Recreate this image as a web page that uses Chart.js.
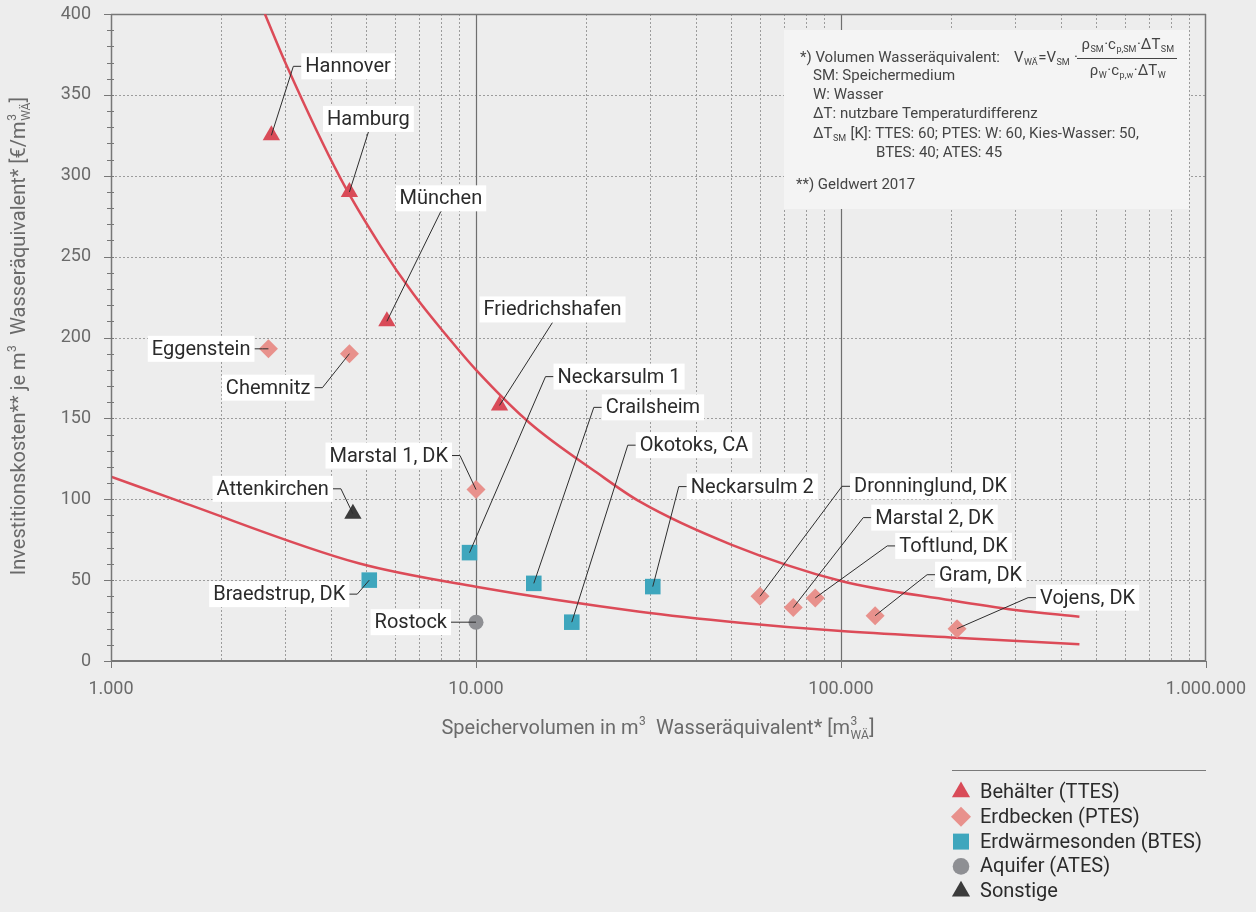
<!DOCTYPE html>
<html>
<head>
<meta charset="utf-8">
<script src="https://cdn.jsdelivr.net/npm/chart.js@4.4.1/dist/chart.umd.min.js"></script>
<style>
  html, body { margin: 0; padding: 0; background: #ededed; }
  #wrap { width: 1256px; height: 912px; position: relative; }
</style>
</head>
<body>
<div id="wrap"><canvas id="c" width="1256" height="912"></canvas></div>
<script>
// Speicherprojekte: Volumen in m³ Wasseräquivalent, Investitionskosten in €/m³
const ttesNames  = ['Hannover', 'Hamburg', 'München', 'Friedrichshafen'];
const ttesVolume = [2750, 4500, 5700, 11600];
const ttesCost   = [325, 290, 210, 158];

const ptesNames  = ['Eggenstein', 'Chemnitz', 'Marstal 1, DK', 'Dronninglund, DK', 'Marstal 2, DK', 'Toftlund, DK', 'Gram, DK', 'Vojens, DK'];
const ptesVolume = [2700, 4500, 10000, 60000, 74000, 85000, 124000, 208000];
const ptesCost   = [193, 190, 106, 40, 33, 39, 28, 20];

const btesNames  = ['Braedstrup, DK', 'Neckarsulm 1', 'Crailsheim', 'Okotoks, CA', 'Neckarsulm 2'];
const btesVolume = [5100, 9600, 14400, 18300, 30500];
const btesCost   = [50, 67, 48, 24, 46];

const atesNames  = ['Rostock'];
const atesVolume = [10000];
const atesCost   = [24];

const otherNames  = ['Attenkirchen'];
const otherVolume = [4600];
const otherCost   = [91];

// Trendlinien (obere: Behälter/Erdbecken, untere: Erdwärmesonden/Aquifer)
const upperTrendVolume = [2640, 3030, 4240, 5460, 6730, 8320, 10000, 14060, 21420, 28120, 50000, 100000, 200000, 300000, 450000];
const upperTrendCost   = [400, 368, 299, 257, 227, 201, 180, 147, 116.5, 98.5, 72, 49.5, 37.5, 31.5, 27.4];
const lowerTrendVolume = [1000, 1550, 4770, 10000, 28100, 52800, 100000, 200000, 450000];
const lowerTrendCost   = [114, 98.5, 60.4, 45.9, 30.5, 23.7, 18.5, 14.6, 10.3];

// Achsen
const xTickValues = [1000, 10000, 100000, 1000000];
const yTickValues = [0, 50, 100, 150, 200, 250, 300, 350, 400];
const legendLabels = ['Behälter (TTES)', 'Erdbecken (PTES)', 'Erdwärmesonden (BTES)', 'Aquifer (ATES)', 'Sonstige'];

const FONT = 'Roboto, "Open Sans", "DejaVu Sans", sans-serif';
const COLORS = {
  ttes: '#d94b58', ptes: '#e8918c', btes: '#3ea6bd', ates: '#8e8f93', other: '#3b3b3b',
  trend: '#dc4b58', text: '#2b2b2b', axisText: '#6a6a6a', axis: '#777777', grid: '#9c9c9c'
};

// Lage der Beschriftungen relativ zum Punkt (Knick der Hinweislinie)
const labelPlacement = {
  'Hannover':        { mode: 'right', dx: 22,  dy: -69 },
  'Hamburg':         { mode: 'above', dx: 19,  dy: -60 },
  'München':         { mode: 'above', dx: 54,  dy: -110 },
  'Friedrichshafen': { mode: 'above', dx: 53,  dy: -83 },
  'Eggenstein':      { mode: 'left',  dx: -6,  dy: 0 },
  'Chemnitz':        { mode: 'left',  dx: -27, dy: 34 },
  'Marstal 1, DK':   { mode: 'left',  dx: -16, dy: -34 },
  'Attenkirchen':    { mode: 'left',  dx: -12, dy: -25 },
  'Braedstrup, DK':  { mode: 'left',  dx: -12, dy: 14 },
  'Rostock':         { mode: 'left',  dx: -17, dy: 0 },
  'Neckarsulm 1':    { mode: 'right', dx: 76,  dy: -176 },
  'Crailsheim':      { mode: 'right', dx: 60,  dy: -176 },
  'Okotoks, CA':     { mode: 'right', dx: 56,  dy: -177 },
  'Neckarsulm 2':    { mode: 'right', dx: 26,  dy: -100 },
  'Dronninglund, DK':{ mode: 'right', dx: 82,  dy: -110 },
  'Marstal 2, DK':   { mode: 'right', dx: 70,  dy: -90 },
  'Toftlund, DK':    { mode: 'right', dx: 72,  dy: -52 },
  'Gram, DK':        { mode: 'right', dx: 52,  dy: -41 },
  'Vojens, DK':      { mode: 'right', dx: 71,  dy: -31 }
};

const toXY = (xs, ys) => xs.map((x, i) => ({ x: x, y: ys[i] }));
const fmtThousands = v => String(v).replace(/\B(?=(\d{3})+(?!\d))/g, '.');

// ---- Text mit Hoch-/Tiefstellung ----
function partWidth(ctx, p, size) {
  if (typeof p === 'string') {
    ctx.font = size + 'px ' + FONT;
    return ctx.measureText(p).width;
  }
  const s = Math.round(size * 0.62);
  ctx.font = s + 'px ' + FONT;
  const a = p.sup ? ctx.measureText(p.sup).width : 0;
  const b = p.sub ? ctx.measureText(p.sub).width : 0;
  return Math.max(a, b) + 1;
}
function richWidth(ctx, parts, size) {
  return parts.reduce((w, p) => w + partWidth(ctx, p, size), 0);
}
function drawRich(ctx, parts, x, y, size, align, color) {
  const total = richWidth(ctx, parts, size);
  let cx = align === 'center' ? x - total / 2 : (align === 'right' ? x - total : x);
  ctx.fillStyle = color;
  ctx.textAlign = 'left';
  ctx.textBaseline = 'middle';
  for (const p of parts) {
    const w = partWidth(ctx, p, size);
    if (typeof p === 'string') {
      ctx.font = size + 'px ' + FONT;
      ctx.fillText(p, cx, y);
    } else {
      ctx.font = Math.round(size * 0.62) + 'px ' + FONT;
      if (p.sup) ctx.fillText(p.sup, cx + 0.5, y - size * 0.36);
      if (p.sub) ctx.fillText(p.sub, cx + 0.5, y + size * 0.34);
    }
    cx += w;
  }
  return total;
}

// ---- Zusatzelemente: Raster, Achsen, Erläuterung, Beschriftungen, Legende ----
const decorations = {
  id: 'decorations',
  beforeDraw(chart) {
    const ctx = chart.ctx;
    ctx.save();
    ctx.fillStyle = '#ededed';
    ctx.fillRect(0, 0, chart.width, chart.height);
    ctx.restore();
  },
  beforeDatasetsDraw(chart) {
    const ctx = chart.ctx;
    const xs = chart.scales.x, ys = chart.scales.y;
    const a = chart.chartArea;
    ctx.save();
    // vertikale Hilfslinien
    ctx.lineWidth = 1;
    for (let d = 1000; d < 1000000; d *= 10) {
      for (let k = 2; k <= 9; k++) {
        const px = Math.round(xs.getPixelForValue(k * d)) + 0.5;
        ctx.strokeStyle = COLORS.grid;
        ctx.setLineDash([2, 2]);
        ctx.beginPath(); ctx.moveTo(px, a.top); ctx.lineTo(px, a.bottom); ctx.stroke();
      }
    }
    // horizontale Hilfslinien
    for (const v of yTickValues) {
      if (v === 0 || v === 400) continue;
      const py = Math.round(ys.getPixelForValue(v)) + 0.5;
      ctx.strokeStyle = COLORS.grid;
      ctx.setLineDash([2, 2]);
      ctx.beginPath(); ctx.moveTo(a.left, py); ctx.lineTo(a.right, py); ctx.stroke();
    }
    ctx.setLineDash([]);
    // Dekaden
    ctx.strokeStyle = '#6f6f6f';
    ctx.lineWidth = 1.2;
    for (const v of [10000, 100000]) {
      const px = Math.round(xs.getPixelForValue(v)) + 0.5;
      ctx.beginPath(); ctx.moveTo(px, a.top); ctx.lineTo(px, a.bottom); ctx.stroke();
    }
    // Rahmen oben/rechts
    ctx.strokeStyle = COLORS.axis;
    ctx.lineWidth = 1.5;
    ctx.beginPath();
    ctx.moveTo(a.left, a.top + 0.5); ctx.lineTo(a.right, a.top + 0.5);
    ctx.moveTo(a.right - 0.5, a.top); ctx.lineTo(a.right - 0.5, a.bottom);
    ctx.stroke();

    // Erläuterungskasten
    const bx = 784, by = 30, bw = 405, bh = 179;
    ctx.fillStyle = '#f4f4f4';
    ctx.fillRect(bx, by, bw, bh);
    const fs = 15, tc = '#444444';
    drawRich(ctx, ['*) Volumen Wasseräquivalent:'], 800, 58, fs, 'left', tc);
    drawRich(ctx, ['V', { sub: 'WÄ' }, '=V', { sub: 'SM' }, ' ·'], 1014, 58, fs, 'left', tc);
    drawRich(ctx, ['ρ', { sub: 'SM' }, '·c', { sub: 'p,SM' }, '·ΔT', { sub: 'SM' }], 1128, 45, fs, 'center', tc);
    drawRich(ctx, ['ρ', { sub: 'W' }, '·c', { sub: 'p,w' }, '·ΔT', { sub: 'W' }], 1128, 71, fs, 'center', tc);
    ctx.strokeStyle = tc; ctx.lineWidth = 1;
    ctx.beginPath(); ctx.moveTo(1077, 58.5); ctx.lineTo(1177, 58.5); ctx.stroke();
    drawRich(ctx, ['SM: Speichermedium'], 813, 76, fs, 'left', tc);
    drawRich(ctx, ['W: Wasser'], 813, 95, fs, 'left', tc);
    drawRich(ctx, ['ΔT: nutzbare Temperaturdifferenz'], 813, 114, fs, 'left', tc);
    drawRich(ctx, ['ΔT', { sub: 'SM' }, ' [K]: TTES: 60; PTES: W: 60, Kies-Wasser: 50,'], 813, 134, fs, 'left', tc);
    drawRich(ctx, ['BTES: 40; ATES: 45'], 876, 153, fs, 'left', tc);
    drawRich(ctx, ['**) Geldwert 2017'], 796, 185, fs, 'left', tc);
    ctx.restore();
  },
  afterDatasetsDraw(chart) {
    const ctx = chart.ctx;
    const xs = chart.scales.x, ys = chart.scales.y;
    const a = chart.chartArea;
    ctx.save();

    // Achsenlinien
    ctx.strokeStyle = COLORS.axis;
    ctx.lineWidth = 1.5;
    ctx.beginPath(); ctx.moveTo(a.left + 0.5, a.top); ctx.lineTo(a.left + 0.5, a.bottom); ctx.stroke();
    ctx.lineWidth = 2;
    ctx.beginPath(); ctx.moveTo(a.left, a.bottom); ctx.lineTo(a.right, a.bottom); ctx.stroke();
    // Teilstriche und Beschriftung y
    ctx.lineWidth = 1;
    for (let v = 0; v <= 400; v += 10) {
      const py = Math.round(ys.getPixelForValue(v)) + 0.5;
      const len = v % 50 === 0 ? 7 : 4;
      ctx.beginPath(); ctx.moveTo(a.left - len, py); ctx.lineTo(a.left + 3, py); ctx.stroke();
    }
    ctx.fillStyle = COLORS.axisText;
    ctx.font = '18px ' + FONT;
    ctx.textAlign = 'right';
    ctx.textBaseline = 'middle';
    for (const v of yTickValues) {
      ctx.fillText(String(v), 91, ys.getPixelForValue(v));
    }
    // Teilstriche und Beschriftung x
    for (const v of xTickValues) {
      const px = Math.round(xs.getPixelForValue(v)) + 0.5;
      ctx.beginPath(); ctx.moveTo(px, a.bottom); ctx.lineTo(px, a.bottom + 7); ctx.stroke();
    }
    ctx.textAlign = 'center';
    for (const v of xTickValues) {
      ctx.fillText(fmtThousands(v), xs.getPixelForValue(v), 689);
    }

    // Achsentitel
    drawRich(ctx, ['Speichervolumen in m', { sup: '3' }, '  Wasseräquivalent* [m', { sup: '3', sub: 'WÄ' }, ']'],
      658, 729, 20, 'center', COLORS.axisText);
    ctx.save();
    ctx.translate(20, 336);
    ctx.rotate(-Math.PI / 2);
    drawRich(ctx, ['Investitionskosten** je m', { sup: '3' }, '  Wasseräquivalent* [€/m', { sup: '3', sub: 'WÄ' }, ']'],
      0, 0, 20, 'center', COLORS.axisText);
    ctx.restore();

    // Beschriftungen der Projekte
    const fsize = 20, boxH = 26, pad = 4, tick = 8;
    chart.data.datasets.forEach((ds, di) => {
      if (!ds.names) return;
      const meta = chart.getDatasetMeta(di);
      meta.data.forEach((pt, i) => {
        const name = ds.names[i];
        const pl = labelPlacement[name];
        if (!pl) return;
        ctx.font = fsize + 'px ' + FONT;
        const tw = ctx.measureText(name).width;
        const ex = pt.x + pl.dx, ey = pt.y + pl.dy;
        let boxX, boxY;
        ctx.strokeStyle = '#2e2e2e';
        ctx.lineWidth = 1;
        ctx.beginPath();
        ctx.moveTo(pt.x, pt.y);
        ctx.lineTo(ex, ey);
        if (pl.mode === 'right') {
          ctx.lineTo(ex + tick, ey);
          boxX = ex + tick; boxY = ey - boxH / 2;
        } else if (pl.mode === 'left') {
          ctx.lineTo(ex - tick, ey);
          boxX = ex - tick - (tw + 2 * pad); boxY = ey - boxH / 2;
        } else {
          boxX = ex - (tw + 2 * pad) / 2; boxY = ey - boxH;
        }
        ctx.stroke();
        ctx.fillStyle = '#ffffff';
        ctx.fillRect(boxX, boxY, tw + 2 * pad, boxH);
        ctx.fillStyle = COLORS.text;
        ctx.textAlign = 'left';
        ctx.textBaseline = 'middle';
        ctx.fillText(name, boxX + pad, boxY + boxH / 2 + 1);
      });
    });

    // Legende
    ctx.strokeStyle = '#7a7a7a';
    ctx.lineWidth = 1;
    ctx.beginPath(); ctx.moveTo(952, 770.5); ctx.lineTo(1206, 770.5); ctx.stroke();
    const legendItems = chart.data.datasets.filter(ds => ds.names);
    legendItems.forEach((ds, i) => {
      const cy = 792 + i * 24.8;
      ctx.fillStyle = ds.backgroundColor;
      Chart.helpers.drawPoint(ctx, { pointStyle: ds.pointStyle, radius: ds.legendRadius, rotation: 0, borderWidth: 0 }, 961, cy);
      ctx.fillStyle = COLORS.text;
      ctx.font = '20px ' + FONT;
      ctx.textAlign = 'left';
      ctx.textBaseline = 'middle';
      ctx.fillText(ds.label, 980, cy + 1);
    });
    ctx.restore();
  }
};

function pointSet(label, names, xs, ys, color, style, radius, legendRadius) {
  return {
    type: 'scatter', label: label, names: names, data: toXY(xs, ys),
    pointStyle: style, pointRadius: radius, pointHoverRadius: radius,
    backgroundColor: color, pointBackgroundColor: color, pointBorderWidth: 0, borderWidth: 0,
    legendRadius: legendRadius, order: 1
  };
}
function trendSet(xs, ys) {
  return {
    type: 'line', label: 'Trend', data: toXY(xs, ys),
    borderColor: COLORS.trend, borderWidth: 2.5, pointRadius: 0, fill: false,
    cubicInterpolationMode: 'monotone', order: 5
  };
}

new Chart(document.getElementById('c'), {
  type: 'scatter',
  data: {
    datasets: [
      pointSet(legendLabels[0], ttesNames, ttesVolume, ttesCost, COLORS.ttes, 'triangle', 10, 10.5),
      pointSet(legendLabels[1], ptesNames, ptesVolume, ptesCost, COLORS.ptes, 'rectRot', 9.5, 10),
      pointSet(legendLabels[2], btesNames, btesVolume, btesCost, COLORS.btes, 'rect', 11, 11.3),
      pointSet(legendLabels[3], atesNames, atesVolume, atesCost, COLORS.ates, 'circle', 7.5, 8.3),
      pointSet(legendLabels[4], otherNames, otherVolume, otherCost, COLORS.other, 'triangle', 10, 10.5),
      trendSet(upperTrendVolume, upperTrendCost),
      trendSet(lowerTrendVolume, lowerTrendCost)
    ]
  },
  options: {
    responsive: false,
    animation: false,
    devicePixelRatio: 1,
    layout: { padding: { left: 0, top: 14, right: 50, bottom: 0 } },
    plugins: { legend: { display: false }, tooltip: { enabled: false } },
    scales: {
      x: {
        type: 'logarithmic', min: 1000, max: 1000000,
        grid: { display: false }, border: { display: false },
        afterBuildTicks: s => { s.ticks = xTickValues.map(v => ({ value: v })); },
        ticks: { display: false },
        afterFit: s => { s.height = 251; }
      },
      y: {
        type: 'linear', min: 0, max: 400,
        grid: { display: false }, border: { display: false },
        afterBuildTicks: s => { s.ticks = yTickValues.map(v => ({ value: v })); },
        ticks: { display: false },
        afterFit: s => { s.width = 111; }
      }
    }
  },
  plugins: [decorations]
});
</script>
</body>
</html>
